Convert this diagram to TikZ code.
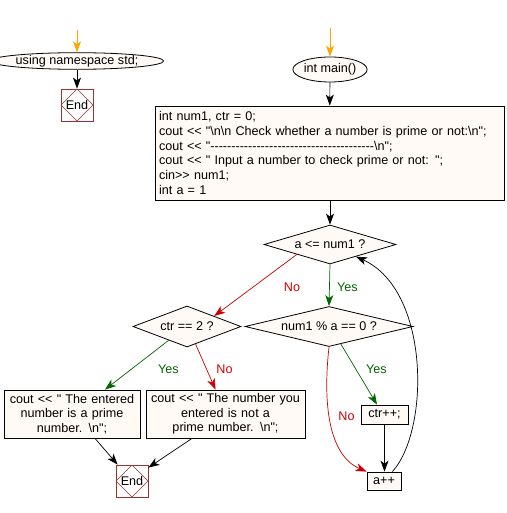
\documentclass[tikz,border=0pt]{standalone}
\usepackage{fontspec}
\setmainfont{Liberation Sans}[Ligatures=TeXOff]
\usetikzlibrary{shapes.geometric,arrows.meta}
\definecolor{fillc}{HTML}{FFFAF5}
\definecolor{nored}{HTML}{CC0000}
\definecolor{yesgreen}{HTML}{006600}
\definecolor{endred}{HTML}{993333}
\definecolor{startor}{HTML}{FFA500}
\begin{document}
\begin{tikzpicture}[x=1pt,y=-1pt,
  font=\fontsize{12.6}{14.7}\selectfont,
  box/.style={draw, fill=fillc, line width=0.8pt, inner xsep=4pt, inner ysep=0pt},
  dia/.style={diamond, draw, fill=fillc, line width=0.8pt, inner sep=0pt},
  oval/.style={ellipse, draw, fill=fillc, line width=0.8pt, inner sep=0pt},
  endn/.style={draw=endred, fill=white, line width=0.8pt, minimum size=32, inner sep=0pt,
     path picture={\draw[endred, line width=0.6pt] (path picture bounding box.north) -- (path picture bounding box.east) -- (path picture bounding box.south) -- (path picture bounding box.west) -- cycle;}},
  arr/.style={-{Stealth[length=11pt,width=8pt,inset=3pt]}, line width=0.7pt},
  yes/.style={text=yesgreen},
  no/.style={text=nored}
]
\useasboundingbox (0,0) rectangle (506,513);

% left start
\coordinate (ns0) at (77,30);
\node[oval, minimum width=143, minimum height=16] (ns) at (77,61) {using namespace std;};
\node[endn] (e1) at (77,105) {End};
\draw[arr, startor] (ns0) -- (ns);
\draw[arr] (ns) -- (e1);

% main
\coordinate (m0) at (330,28);
\node[oval, minimum width=72, minimum height=25] (main) at (330,69.5) {int main()};
\draw[arr, startor] (m0) -- (main);

\node[box, minimum width=349, minimum height=94, text width=341, align=left] (init) at (329.5,153)
{int num1, ctr = 0;\\
cout << "\textbackslash n\textbackslash n Check whether a number is prime or not:\textbackslash n";\\
cout << "---------------------------------------\textbackslash n";\\
cout << " Input a number to check prime or not: ";\\
cin>> num1;\\
int a = 1};
\draw[arr] (main) -- (init);

% decisions
\node[dia, shape aspect=3.38, minimum width=132, minimum height=39] (d1) at (330,244.5) {a <= num1 ?};
\node[dia, shape aspect=2.63, minimum width=108, minimum height=41] (d2) at (187,326.5) {ctr == 2 ?};
\node[dia, shape aspect=4.2, minimum width=168, minimum height=40] (d3) at (329,326.5) {num1 \% a == 0 ?};

\draw[arr] (init.south -| d1.north) -- (d1.north);
\draw[arr, nored] (d1.south west) -- (d2.north east);
\draw[arr, yesgreen] (d1.south) -- (d3.north);
\node[no] (l1) at (292,287) {No};
\node[yes] (l2) at (347.5,287) {Yes};

% output boxes
\node[box, minimum width=136, minimum height=48, text width=128, align=center, inner ysep=2pt] (p1) at (72,414)
{cout << " The entered\\ number is a prime\\ number. \textbackslash n";};
\node[box, minimum width=159, minimum height=48, text width=151, align=center, inner ysep=2pt] (p2) at (225.5,414)
{cout << " The number you\\ entered is not a\\ prime number. \textbackslash n";};
\node[endn] (e2) at (132,481) {End};

\draw[arr, yesgreen] (d2.217) -- ([xshift=33pt]p1.north);
\draw[arr, nored] (d2.296) -- ([xshift=-10pt]p2.north);
\node[yes] (l3) at (168.5,369) {Yes};
\node[no] (l4) at (224.5,369) {No};
\draw[arr] ([xshift=23pt]p1.south) -- ([xshift=2pt]e2.north west);
\draw[arr] ([xshift=-33.5pt]p2.south) -- ([yshift=-3pt]e2.north east);

% loop body
\node[box, minimum width=47, minimum height=19, inner xsep=0pt] (cpp) at (384.5,414.5) {ctr++;};
\node[box, minimum width=34, minimum height=18, inner xsep=0pt] (apl) at (384,481) {a++};

\draw[arr, yesgreen] (d3.304) -- ([xshift=-7.5pt]cpp.north);
\node[yes] (l5) at (376.5,369) {Yes};
\draw[arr, nored] (d3.south) .. controls (321,420) and (335,458) .. (apl.north west);
\node[no] (l6) at (346.5,416) {No};
\draw[arr] (cpp.south) -- (apl.north -| cpp.south);
\draw[arr] ([xshift=-9pt]apl.north east) .. controls (430,430) and (430,290) .. (d1.335);
\end{tikzpicture}
\end{document}
